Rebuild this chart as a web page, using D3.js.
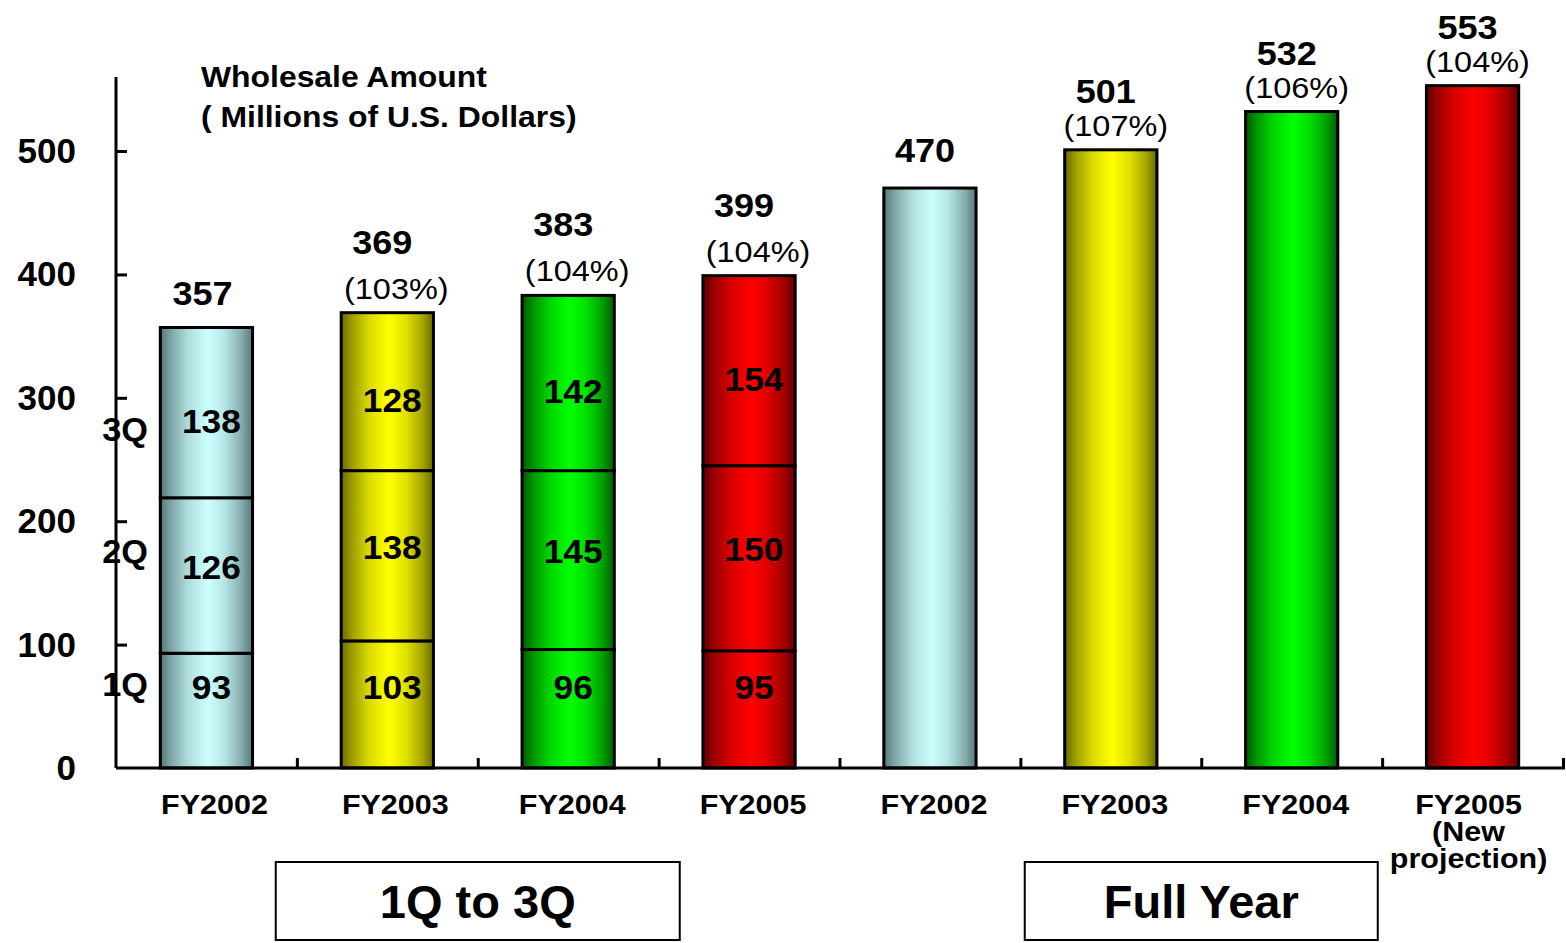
<!DOCTYPE html>
<html>
<head>
<meta charset="utf-8">
<script src="https://cdn.jsdelivr.net/npm/d3@7/dist/d3.min.js"></script>
<style>
  html, body { margin: 0; padding: 0; background: #ffffff; }
  svg { display: block; font-family: "Liberation Sans", Arial, sans-serif; }
</style>
</head>
<body>
<svg id="chart" width="1566" height="943"></svg>
<script>
// ---- data ----
const years = ["FY2002", "FY2003", "FY2004", "FY2005"];
const categoryLabels = [
  ["FY2002"], ["FY2003"], ["FY2004"], ["FY2005"],
  ["FY2002"], ["FY2003"], ["FY2004"], ["FY2005", "(New", "projection)"]
];
const q1 = [93, 103, 96, 95];
const q2 = [126, 138, 145, 150];
const q3 = [138, 128, 142, 154];
const nineMonthTotals = [357, 369, 383, 399];
const nineMonthGrowth = [null, "(103%)", "(104%)", "(104%)"];
const fullYearTotals = [470, 501, 532, 553];
const fullYearGrowth = [null, "(107%)", "(106%)", "(104%)"];
const quarterNames = ["1Q", "2Q", "3Q"];
const yTicks = [0, 100, 200, 300, 400, 500];
const groupLabels = ["1Q to 3Q", "Full Year"];
const titleLines = ["Wholesale Amount", "( Millions of U.S. Dollars)"];

// bar colour per year: [edge, centre]
const yearColors = [
  ["#577777", "#ccffff"],
  ["#6a6a00", "#ffff00"],
  ["#005a00", "#00ff00"],
  ["#640000", "#ff0000"]
];

// ---- layout ----
const svg = d3.select("#chart");
const x0 = 116, x1 = 1563, yBase = 768, yTop = 77;

const x = d3.scaleBand()
  .domain(d3.range(8))
  .range([x0, x1])
  .paddingInner(0.49)
  .paddingOuter(0.245);

const y = d3.scaleLinear().domain([0, 560]).range([yBase, yTop]);

// horizontal cylinder-like gradients
const defs = svg.append("defs");
yearColors.forEach((c, i) => {
  const g = defs.append("linearGradient")
    .attr("id", "grad" + i)
    .attr("x1", "0%").attr("x2", "100%").attr("y1", "0%").attr("y2", "0%");
  const interp = d3.interpolateRgb(c[0], c[1]);
  [[0, 0], [0.12, 0.35], [0.3, 0.75], [0.52, 1], [0.7, 0.8], [0.88, 0.4], [1, 0]]
    .forEach(([o, t]) => g.append("stop").attr("offset", o).attr("stop-color", interp(t)));
});

// text helper with a slight horizontal stretch
function label(parent, tx, ty, str, opts) {
  const o = Object.assign({ size: 32, weight: "bold", anchor: "middle", sx: 1 }, opts || {});
  return parent.append("text")
    .attr("transform", `translate(${tx},${ty}) scale(${o.sx},1)`)
    .attr("text-anchor", o.anchor)
    .attr("font-size", o.size)
    .attr("font-weight", o.weight)
    .attr("fill", "#000")
    .text(str);
}

const bars = svg.append("g");

// stacked 1Q-3Q bars
years.forEach((yr, i) => {
  const bx = x(i), bw = x.bandwidth();
  const segs = [q1[i], q2[i], q3[i]];
  let acc = 0;
  segs.forEach((v, k) => {
    const lo = acc, hi = acc + v;
    acc = hi;
    bars.append("rect")
      .attr("x", bx).attr("width", bw)
      .attr("y", y(hi)).attr("height", y(lo) - y(hi))
      .attr("fill", `url(#grad${i})`)
      .attr("stroke", "#000").attr("stroke-width", 3);
    // value inside the segment: 1Q values share one row, others sit near the middle
    const mid = (y(lo) + y(hi)) / 2;
    const ly = k === 0 ? y(66) : mid + (k === 1 ? -9 : 8);
    label(bars, bx + bw / 2 + 5, ly + 12, v, { size: 33, sx: 1.07 });
  });
  const top = y(nineMonthTotals[i]);
  if (nineMonthGrowth[i]) {
    label(bars, bx + bw / 2 - 5, top - 59, nineMonthTotals[i], { size: 34, sx: 1.06 });
    label(bars, bx + bw / 2 + 9, top - 14, nineMonthGrowth[i], { size: 29, weight: "normal", sx: 1.12 });
  } else {
    label(bars, bx + bw / 2 - 4, top - 22, nineMonthTotals[i], { size: 34, sx: 1.06 });
  }
});

// full-year bars
years.forEach((yr, i) => {
  const idx = i + 4;
  const bx = x(idx), bw = x.bandwidth();
  const top = y(fullYearTotals[i]);
  bars.append("rect")
    .attr("x", bx).attr("width", bw)
    .attr("y", top).attr("height", yBase - top)
    .attr("fill", `url(#grad${i})`)
    .attr("stroke", "#000").attr("stroke-width", 3);
  if (fullYearGrowth[i]) {
    label(bars, bx + bw / 2 - 5, top - 47, fullYearTotals[i], { size: 34, sx: 1.06 });
    label(bars, bx + bw / 2 + 5, top - 14, fullYearGrowth[i], { size: 29, weight: "normal", sx: 1.12 });
  } else {
    label(bars, bx + bw / 2 - 5, top - 26, fullYearTotals[i], { size: 34, sx: 1.06 });
  }
});

// quarter names beside the first stacked bar
const qRows = [y(68), y(176), y(275)];
quarterNames.forEach((q, k) => label(svg, 148, qRows[k] + 12, q, { size: 33, anchor: "end", sx: 1.04 }));

// ---- axes ----
const yAxis = svg.append("g").attr("transform", `translate(${x0},0)`)
  .call(d3.axisRight(y).tickValues(yTicks).tickSize(11).tickFormat(""));
yAxis.select(".domain").attr("d", `M0,${yTop}V${yBase}`).attr("stroke-width", 3);
yAxis.selectAll(".tick line").attr("stroke-width", 3);
yAxis.selectAll(".tick").filter(d => d === 0).select("line").remove();

yTicks.forEach(t => label(svg, 76, y(t) + 12, t, { size: 35, anchor: "end" }));

// category axis: ticks at band boundaries
const boundaries = d3.range(1, 9).map(k => x0 + k * x.step());
const xAxisScale = d3.scaleLinear().domain([x0, x1]).range([x0, x1]);
const xAxis = svg.append("g").attr("transform", `translate(0,${yBase})`)
  .call(d3.axisTop(xAxisScale).tickValues(boundaries).tickSize(10).tickFormat(""));
xAxis.select(".domain").attr("d", `M${x0},0H${x1 + 2}`).attr("stroke-width", 3);
xAxis.selectAll(".tick line").attr("stroke-width", 3);

categoryLabels.forEach((lines, i) => {
  const shift = i === 7 ? -4 : (i < 2 ? 8 : 4);
  const cx = x(i) + x.bandwidth() / 2 + shift;
  lines.forEach((ln, j) => label(svg, cx, 814 + j * 27, ln, { size: 27, sx: 1.13 }));
});

// ---- title ----
titleLines.forEach((t, j) => label(svg, 201, 87 + j * 40, t, { size: 29, anchor: "start", sx: 1.1 }));

// ---- group boxes ----
const groups = [
  { text: groupLabels[0], cx: (x(0) + x(3) + x.bandwidth()) / 2, w: 404 },
  { text: groupLabels[1], cx: x0 + 6 * x.step(), w: 353 }
];
groups.forEach(g => {
  svg.append("rect")
    .attr("x", g.cx - g.w / 2).attr("y", 862)
    .attr("width", g.w).attr("height", 78)
    .attr("fill", "#fff").attr("stroke", "#000").attr("stroke-width", 2);
  label(svg, g.cx, 918, g.text, { size: 47 });
});
</script>
</body>
</html>
